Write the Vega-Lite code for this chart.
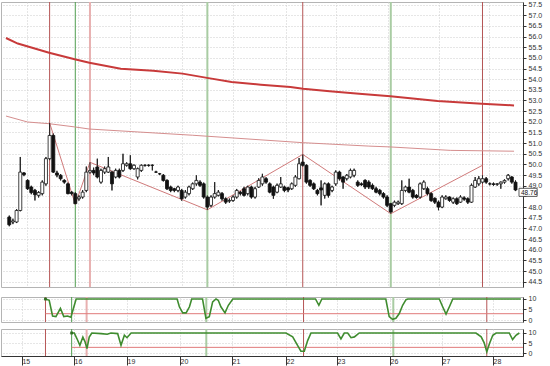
{
  "$schema": "https://vega.github.io/schema/vega-lite/v6.json",
  "background": "white",
  "padding": 0,
  "spacing": 10,
  "bounds": "flush",
  "config": {
    "view": {"stroke": "#b4b4b4"},
    "axis": {"labelFont": "Liberation Sans", "labelFontSize": 7, "labelColor": "#333333", "domainColor": "#333333", "tickColor": "#333333", "gridColor": "#cccccc", "gridDash": [1, 2], "gridWidth": 1, "labelOverlap": false}
  },
  "resolve": {"scale": {"x": "independent", "y": "independent"}},
  "datasets": {
    "signals": [
      {"i": 11, "kind": "red"}, {"i": 18, "kind": "green"}, {"i": 22, "kind": "pink"},
      {"i": 54, "kind": "palegreen"}, {"i": 80, "kind": "red"}, {"i": 104, "kind": "palegreen"}, {"i": 129, "kind": "red"}
    ],
    "ma1": [
      {"i": -0.89, "v": 55.93}, {"i": 2.32, "v": 55.67}, {"i": 10.87, "v": 55.24}, {"i": 17.83, "v": 54.93},
      {"i": 21.84, "v": 54.77}, {"i": 30.39, "v": 54.49}, {"i": 39.22, "v": 54.39}, {"i": 47.24, "v": 54.26},
      {"i": 53.92, "v": 54.06}, {"i": 60.6, "v": 53.87}, {"i": 68.6, "v": 53.74}, {"i": 76.65, "v": 53.63},
      {"i": 80.1, "v": 53.55}, {"i": 87.34, "v": 53.43}, {"i": 95.37, "v": 53.32}, {"i": 103.9, "v": 53.2},
      {"i": 116.75, "v": 52.98}, {"i": 128.8, "v": 52.85}, {"i": 137.6, "v": 52.77}
    ],
    "ma2": [
      {"i": -0.89, "v": 52.27}, {"i": 4.99, "v": 51.99}, {"i": 10.87, "v": 51.91}, {"i": 17.83, "v": 51.76},
      {"i": 21.84, "v": 51.66}, {"i": 49.91, "v": 51.37}, {"i": 80.1, "v": 51.02}, {"i": 98.03, "v": 50.86},
      {"i": 103.9, "v": 50.82}, {"i": 120.2, "v": 50.66}, {"i": 137.6, "v": 50.62}
    ],
    "zigzag": [
      {"i": 11, "v": 51.95}, {"i": 18, "v": 48.13}, {"i": 22, "v": 50.1}, {"i": 54, "v": 47.87},
      {"i": 80, "v": 50.47}, {"i": 104, "v": 47.69}, {"i": 129, "v": 49.96}
    ],
    "candles": [
      {"i":0,"o":47.53,"c":47.17,"h":47.6,"l":47.1},
      {"i":1,"o":47.3,"c":47.35,"h":47.45,"l":47.2},
      {"i":2,"o":47.3,"c":47.84,"h":47.9,"l":47.25},
      {"i":3,"o":47.84,"c":49.64,"h":50.35,"l":47.8},
      {"i":4,"o":49.6,"c":49.52,"h":49.64,"l":49.45},
      {"i":5,"o":49.25,"c":48.86,"h":49.3,"l":48.8},
      {"i":6,"o":48.94,"c":48.68,"h":49.0,"l":48.6},
      {"i":7,"o":48.78,"c":48.58,"h":48.85,"l":48.31},
      {"i":8,"o":48.55,"c":48.68,"h":48.75,"l":48.45},
      {"i":9,"o":48.63,"c":49.17,"h":49.25,"l":48.55},
      {"i":10,"o":49.09,"c":50.27,"h":50.35,"l":49.0},
      {"i":11,"o":50.27,"c":51.36,"h":51.95,"l":50.2},
      {"i":12,"o":51.36,"c":49.64,"h":51.45,"l":49.6},
      {"i":13,"o":49.6,"c":49.5,"h":49.7,"l":49.4},
      {"i":14,"o":49.49,"c":49.33,"h":49.55,"l":49.25},
      {"i":15,"o":49.25,"c":49.17,"h":49.3,"l":49.1},
      {"i":16,"o":49.09,"c":48.63,"h":49.15,"l":48.6},
      {"i":17,"o":48.7,"c":48.63,"h":48.75,"l":48.55},
      {"i":18,"o":48.63,"c":48.16,"h":48.7,"l":48.13},
      {"i":19,"o":48.39,"c":48.47,"h":48.55,"l":48.3},
      {"i":20,"o":48.47,"c":48.7,"h":48.8,"l":48.4},
      {"i":21,"o":48.78,"c":49.64,"h":49.9,"l":48.7},
      {"i":22,"o":49.64,"c":49.72,"h":50.1,"l":49.55},
      {"i":23,"o":49.72,"c":49.6,"h":49.85,"l":49.5},
      {"i":24,"o":49.88,"c":49.41,"h":50.27,"l":49.35},
      {"i":25,"o":49.17,"c":49.72,"h":49.8,"l":49.1},
      {"i":26,"o":49.64,"c":49.8,"h":49.9,"l":49.55},
      {"i":27,"o":49.64,"c":49.88,"h":50.35,"l":49.6},
      {"i":28,"o":49.64,"c":49.09,"h":49.7,"l":48.78},
      {"i":29,"o":49.41,"c":49.72,"h":49.8,"l":49.35},
      {"i":30,"o":49.72,"c":49.41,"h":49.8,"l":49.35},
      {"i":31,"o":49.72,"c":50.03,"h":50.5,"l":49.65},
      {"i":32,"o":49.96,"c":50.03,"h":50.1,"l":49.9},
      {"i":33,"o":50.03,"c":49.8,"h":50.43,"l":49.75},
      {"i":34,"o":49.8,"c":49.96,"h":50.0,"l":49.75},
      {"i":35,"o":49.41,"c":49.8,"h":49.85,"l":49.3},
      {"i":36,"o":49.72,"c":49.96,"h":50.0,"l":49.65},
      {"i":37,"o":49.96,"c":49.96,"h":50.0,"l":49.9},
      {"i":38,"o":49.96,"c":49.96,"h":50.0,"l":49.9},
      {"i":39,"o":49.96,"c":49.96,"h":50.0,"l":49.72},
      {"i":40,"o":49.64,"c":49.64,"h":49.7,"l":49.6},
      {"i":41,"o":49.56,"c":49.56,"h":49.6,"l":49.5},
      {"i":42,"o":49.49,"c":49.25,"h":49.55,"l":49.2},
      {"i":43,"o":49.25,"c":48.86,"h":49.3,"l":48.8},
      {"i":44,"o":48.94,"c":48.78,"h":49.0,"l":48.7},
      {"i":45,"o":48.86,"c":48.78,"h":48.9,"l":48.7},
      {"i":46,"o":48.78,"c":48.94,"h":49.0,"l":48.7},
      {"i":47,"o":48.78,"c":48.39,"h":48.85,"l":48.3},
      {"i":48,"o":48.47,"c":48.7,"h":48.8,"l":48.4},
      {"i":49,"o":48.63,"c":48.94,"h":49.0,"l":48.55},
      {"i":50,"o":48.86,"c":49.09,"h":49.15,"l":48.8},
      {"i":51,"o":49.09,"c":49.25,"h":49.49,"l":49.0},
      {"i":52,"o":49.17,"c":49.02,"h":49.25,"l":48.95},
      {"i":53,"o":49.09,"c":48.47,"h":49.15,"l":48.4},
      {"i":54,"o":48.47,"c":48.0,"h":48.55,"l":47.87},
      {"i":55,"o":48.08,"c":48.47,"h":48.55,"l":48.0},
      {"i":56,"o":48.47,"c":48.63,"h":49.17,"l":48.4},
      {"i":57,"o":48.55,"c":48.7,"h":48.8,"l":48.5},
      {"i":58,"o":48.63,"c":48.39,"h":48.7,"l":48.3},
      {"i":59,"o":48.39,"c":48.23,"h":48.45,"l":48.15},
      {"i":60,"o":48.28,"c":48.31,"h":48.4,"l":48.2},
      {"i":61,"o":48.31,"c":48.47,"h":48.55,"l":48.25},
      {"i":62,"o":48.47,"c":48.78,"h":48.85,"l":48.4},
      {"i":63,"o":48.7,"c":48.63,"h":48.75,"l":48.55},
      {"i":64,"o":48.86,"c":48.55,"h":48.95,"l":48.5},
      {"i":65,"o":48.63,"c":48.94,"h":49.0,"l":48.55},
      {"i":66,"o":48.94,"c":48.47,"h":49.0,"l":48.4},
      {"i":67,"o":48.47,"c":48.86,"h":48.95,"l":48.4},
      {"i":68,"o":48.94,"c":49.25,"h":49.35,"l":48.9},
      {"i":69,"o":49.09,"c":49.41,"h":49.56,"l":49.0},
      {"i":70,"o":49.33,"c":49.17,"h":49.4,"l":49.1},
      {"i":71,"o":49.09,"c":48.7,"h":49.15,"l":48.65},
      {"i":72,"o":48.94,"c":48.55,"h":49.0,"l":48.39},
      {"i":73,"o":48.7,"c":49.02,"h":49.1,"l":48.65},
      {"i":74,"o":48.94,"c":49.09,"h":49.41,"l":48.9},
      {"i":75,"o":48.94,"c":48.78,"h":49.0,"l":48.7},
      {"i":76,"o":48.9,"c":48.8,"h":48.95,"l":48.7},
      {"i":77,"o":48.86,"c":49.09,"h":49.15,"l":48.8},
      {"i":78,"o":49.02,"c":49.41,"h":49.5,"l":48.95},
      {"i":79,"o":49.33,"c":50.03,"h":50.3,"l":49.3},
      {"i":80,"o":50.11,"c":49.96,"h":50.47,"l":49.9},
      {"i":81,"o":49.96,"c":49.17,"h":50.0,"l":49.1},
      {"i":82,"o":49.25,"c":49.02,"h":49.3,"l":48.95},
      {"i":83,"o":49.09,"c":48.86,"h":49.15,"l":48.8},
      {"i":84,"o":48.78,"c":48.63,"h":48.85,"l":48.55},
      {"i":85,"o":48.9,"c":48.8,"h":49.25,"l":48.08},
      {"i":86,"o":48.55,"c":49.09,"h":49.15,"l":48.4},
      {"i":87,"o":49.09,"c":48.55,"h":49.15,"l":48.45},
      {"i":88,"o":48.78,"c":48.94,"h":49.0,"l":48.7},
      {"i":89,"o":49.09,"c":49.64,"h":49.72,"l":49.0},
      {"i":90,"o":49.64,"c":49.33,"h":49.7,"l":49.25},
      {"i":91,"o":49.41,"c":49.17,"h":49.45,"l":48.86},
      {"i":92,"o":49.33,"c":49.49,"h":49.55,"l":49.25},
      {"i":93,"o":49.41,"c":49.72,"h":49.8,"l":49.35},
      {"i":94,"o":49.49,"c":49.72,"h":49.8,"l":49.4},
      {"i":95,"o":49.17,"c":49.02,"h":49.25,"l":48.95},
      {"i":96,"o":49.09,"c":49.05,"h":49.15,"l":49.0},
      {"i":97,"o":49.25,"c":48.94,"h":49.3,"l":48.85},
      {"i":98,"o":49.17,"c":48.94,"h":49.25,"l":48.85},
      {"i":99,"o":49.02,"c":48.86,"h":49.1,"l":48.8},
      {"i":100,"o":48.86,"c":48.7,"h":48.95,"l":48.65},
      {"i":101,"o":48.78,"c":48.63,"h":48.85,"l":48.55},
      {"i":102,"o":48.63,"c":48.47,"h":48.7,"l":48.4},
      {"i":103,"o":48.47,"c":48.08,"h":48.55,"l":48.0},
      {"i":104,"o":48.16,"c":47.77,"h":48.2,"l":47.69},
      {"i":105,"o":48.08,"c":48.23,"h":48.3,"l":48.0},
      {"i":106,"o":48.16,"c":48.23,"h":48.3,"l":48.1},
      {"i":107,"o":48.16,"c":48.78,"h":49.25,"l":48.1},
      {"i":108,"o":48.78,"c":48.94,"h":49.0,"l":48.7},
      {"i":109,"o":48.94,"c":48.7,"h":49.33,"l":48.65},
      {"i":110,"o":48.78,"c":48.47,"h":48.85,"l":48.4},
      {"i":111,"o":48.55,"c":48.45,"h":48.6,"l":48.4},
      {"i":112,"o":48.47,"c":49.09,"h":49.15,"l":48.4},
      {"i":113,"o":48.86,"c":49.17,"h":49.25,"l":48.8},
      {"i":114,"o":48.86,"c":48.63,"h":48.95,"l":48.55},
      {"i":115,"o":48.63,"c":48.31,"h":48.7,"l":48.25},
      {"i":116,"o":48.41,"c":48.23,"h":48.45,"l":48.15},
      {"i":117,"o":48.23,"c":48.0,"h":48.3,"l":47.85},
      {"i":118,"o":48.0,"c":48.47,"h":48.55,"l":47.95},
      {"i":119,"o":48.39,"c":48.47,"h":48.55,"l":48.35},
      {"i":120,"o":48.47,"c":48.31,"h":48.5,"l":48.25},
      {"i":121,"o":48.23,"c":48.39,"h":48.45,"l":48.15},
      {"i":122,"o":48.39,"c":48.16,"h":48.45,"l":48.1},
      {"i":123,"o":48.23,"c":48.47,"h":48.55,"l":48.2},
      {"i":124,"o":48.43,"c":48.37,"h":48.5,"l":48.3},
      {"i":125,"o":48.39,"c":48.23,"h":48.45,"l":48.15},
      {"i":126,"o":48.23,"c":49.02,"h":49.1,"l":48.2},
      {"i":127,"o":48.94,"c":49.25,"h":49.41,"l":48.9},
      {"i":128,"o":49.09,"c":49.33,"h":49.45,"l":49.0},
      {"i":129,"o":49.17,"c":49.33,"h":49.49,"l":49.1},
      {"i":130,"o":49.33,"c":49.17,"h":49.41,"l":49.1},
      {"i":131,"o":49.09,"c":49.09,"h":49.15,"l":49.02},
      {"i":132,"o":49.09,"c":49.06,"h":49.15,"l":49.0},
      {"i":133,"o":49.07,"c":49.09,"h":49.12,"l":49.0},
      {"i":134,"o":49.09,"c":49.17,"h":49.2,"l":48.86},
      {"i":135,"o":49.17,"c":49.25,"h":49.3,"l":49.1},
      {"i":136,"o":49.33,"c":49.49,"h":49.55,"l":49.25},
      {"i":137,"o":49.41,"c":49.17,"h":49.45,"l":49.1},
      {"i":138,"o":49.17,"c":48.8,"h":49.25,"l":48.75}
    ],
    "ind1": [
      {"i":11,"v":10},{"i":12,"v":9.4},{"i":12.9,"v":1.9},{"i":13.8,"v":1.6},{"i":15,"v":5.5},{"i":15.9,"v":1.6},
      {"i":16.9,"v":1.9},{"i":17.8,"v":1.3},{"i":18.6,"v":6.3},{"i":19.2,"v":10},{"i":46.2,"v":10},{"i":46.8,"v":6.3},
      {"i":47.7,"v":3.4},{"i":48.6,"v":3.4},{"i":49.5,"v":6.3},{"i":50.1,"v":10},{"i":53,"v":10},{"i":53.9,"v":0.8},
      {"i":54.8,"v":1.6},{"i":55.7,"v":8.6},{"i":56.6,"v":10},{"i":57.2,"v":9.4},{"i":57.9,"v":6.3},{"i":59,"v":3.4},
      {"i":59.9,"v":7},{"i":61.1,"v":10},{"i":83.2,"v":10},{"i":84.1,"v":7},{"i":84.9,"v":10},{"i":102,"v":10},
      {"i":102.9,"v":1.6},{"i":103.8,"v":0.3},{"i":104.7,"v":0.8},{"i":105.6,"v":3.1},{"i":106.5,"v":7},{"i":107.4,"v":9.7},
      {"i":107.9,"v":10},{"i":116.3,"v":10},{"i":117.2,"v":6.3},{"i":118.1,"v":2.8},{"i":119,"v":6.3},{"i":119.9,"v":10},
      {"i":138.1,"v":10}
    ],
    "ind2": [
      {"i":18,"v":10},{"i":18.7,"v":10},{"i":19.4,"v":7.3},{"i":20.2,"v":4},{"i":21,"v":8},{"i":21.6,"v":5.6},
      {"i":22.1,"v":2.4},{"i":22.7,"v":8},{"i":23.4,"v":10},{"i":25.9,"v":9.7},{"i":27.5,"v":9.4},{"i":28.5,"v":10},
      {"i":30.3,"v":9.7},{"i":31.2,"v":4},{"i":32.1,"v":8.9},{"i":32.8,"v":7.7},{"i":33.9,"v":10},{"i":75.3,"v":10},
      {"i":77.1,"v":8.1},{"i":78.4,"v":4},{"i":79.3,"v":1.1},{"i":80.2,"v":1.1},{"i":81.1,"v":6.3},{"i":82,"v":10},
      {"i":89.1,"v":10},{"i":90,"v":7.1},{"i":90.9,"v":10},{"i":91.8,"v":10},{"i":92.7,"v":7.7},{"i":93.6,"v":8.1},
      {"i":94.9,"v":10},{"i":126.1,"v":10},{"i":127.5,"v":8.1},{"i":128.3,"v":5.2},{"i":129,"v":0.8},{"i":129.7,"v":4.8},
      {"i":130.6,"v":8.9},{"i":131.5,"v":10},{"i":135,"v":10},{"i":135.9,"v":6.8},{"i":136.8,"v":8.9},{"i":137.7,"v":10}
    ],
    "thresholds": [{"panel": 1, "start": 11, "level": 3}, {"panel": 2, "start": 18, "level": 3}],
    "lastprice": [{"price": 48.76, "from": 138.95, "to": 143.9, "lo": 48.5, "hi": 48.88}]
  },
  "vconcat": [
    {
      "width": 522,
      "height": 285,
      "encoding": {
        "x": {"field": "i", "type": "quantitative",
          "scale": {"domain": [-0.89, 138.68], "nice": false, "zero": false},
          "axis": {"values": [4.72, 18.63, 32.8, 46.97, 60.87, 75.31, 88.95, 103.12, 117.02, 130.66], "labels": false, "ticks": false, "domain": false, "grid": true, "title": null}}
      },
      "layer": [
        {
          "data": {"name": "candles"},
          "mark": {"type": "rule", "color": "#222222", "strokeWidth": 1},
          "encoding": {
            "y": {"field": "l", "type": "quantitative", "scale": {"domain": [44.25, 57.62], "nice": false, "zero": false},
              "axis": {"orient": "right", "title": null, "grid": true, "tickSize": 3, "labelPadding": 2, "labelOverlap": false, "labelExpr": "datum.value === 48.5 ? '' : format(datum.value, '.1f')",
                "values": [44.5,45,45.5,46,46.5,47,47.5,48,48.5,49,49.5,50,50.5,51,51.5,52,52.5,53,53.5,54,54.5,55,55.5,56,56.5,57,57.5]}},
            "y2": {"field": "h"}
          }
        },
        {
          "data": {"name": "signals"},
          "mark": {"type": "rule"},
          "encoding": {
            "color": {"field": "kind", "type": "nominal", "legend": null,
              "scale": {"domain": ["red", "green", "pink", "palegreen"], "range": ["#b55555", "#4f9d4f", "#e8b0b0", "#a9cca3"]}},
            "strokeWidth": {"condition": {"test": "datum.kind === 'pink' || datum.kind === 'palegreen'", "value": 2}, "value": 1}
          }
        },
        {
          "data": {"name": "ma2"},
          "mark": {"type": "line", "color": "#d58e8e", "strokeWidth": 1},
          "encoding": {"y": {"field": "v", "type": "quantitative", "scale": {"domain": [44.25, 57.62], "nice": false, "zero": false},
            "axis": {"orient": "right", "title": null, "grid": true, "tickSize": 3, "labelPadding": 2, "labelOverlap": false, "labelExpr": "datum.value === 48.5 ? '' : format(datum.value, '.1f')",
              "values": [44.5,45,45.5,46,46.5,47,47.5,48,48.5,49,49.5,50,50.5,51,51.5,52,52.5,53,53.5,54,54.5,55,55.5,56,56.5,57,57.5]}}}
        },
        {
          "data": {"name": "ma1"},
          "mark": {"type": "line", "color": "#c83a3a", "strokeWidth": 2},
          "encoding": {"y": {"field": "v", "type": "quantitative", "scale": {"domain": [44.25, 57.62], "nice": false, "zero": false},
            "axis": {"orient": "right", "title": null, "grid": true, "tickSize": 3, "labelPadding": 2, "labelOverlap": false, "labelExpr": "datum.value === 48.5 ? '' : format(datum.value, '.1f')",
              "values": [44.5,45,45.5,46,46.5,47,47.5,48,48.5,49,49.5,50,50.5,51,51.5,52,52.5,53,53.5,54,54.5,55,55.5,56,56.5,57,57.5]}}}
        },
        {
          "data": {"name": "zigzag"},
          "mark": {"type": "line", "color": "#d07a7a", "strokeWidth": 1},
          "encoding": {"y": {"field": "v", "type": "quantitative", "scale": {"domain": [44.25, 57.62], "nice": false, "zero": false},
            "axis": {"orient": "right", "title": null, "grid": true, "tickSize": 3, "labelPadding": 2, "labelOverlap": false, "labelExpr": "datum.value === 48.5 ? '' : format(datum.value, '.1f')",
              "values": [44.5,45,45.5,46,46.5,47,47.5,48,48.5,49,49.5,50,50.5,51,51.5,52,52.5,53,53.5,54,54.5,55,55.5,56,56.5,57,57.5]}}}
        },
        {
          "data": {"name": "candles"},
          "mark": {"type": "rule", "color": "#222222", "strokeWidth": 1},
          "encoding": {
            "y": {"field": "l", "type": "quantitative", "scale": {"domain": [44.25, 57.62], "nice": false, "zero": false},
              "axis": {"orient": "right", "title": null, "grid": true, "tickSize": 3, "labelPadding": 2, "labelOverlap": false, "labelExpr": "datum.value === 48.5 ? '' : format(datum.value, '.1f')",
                "values": [44.5,45,45.5,46,46.5,47,47.5,48,48.5,49,49.5,50,50.5,51,51.5,52,52.5,53,53.5,54,54.5,55,55.5,56,56.5,57,57.5]}},
            "y2": {"field": "h"}
          }
        },
        {
          "data": {"name": "candles"},
          "mark": {"type": "bar", "size": 3, "stroke": "#111111", "strokeWidth": 0.8, "orient": "vertical"},
          "encoding": {
            "y": {"field": "o", "type": "quantitative", "scale": {"domain": [44.25, 57.62], "nice": false, "zero": false},
              "axis": {"orient": "right", "title": null, "grid": true, "tickSize": 3, "labelPadding": 2, "labelOverlap": false, "labelExpr": "datum.value === 48.5 ? '' : format(datum.value, '.1f')",
                "values": [44.5,45,45.5,46,46.5,47,47.5,48,48.5,49,49.5,50,50.5,51,51.5,52,52.5,53,53.5,54,54.5,55,55.5,56,56.5,57,57.5]}},
            "y2": {"field": "c"},
            "fill": {"condition": {"test": "datum.c >= datum.o", "value": "#ffffff"}, "value": "#111111"}
          }
        },
        {
          "data": {"name": "lastprice"},
          "mark": {"type": "rect", "fill": "#ffffff", "stroke": "#333333", "strokeWidth": 0.8, "clip": false},
          "encoding": {
            "x": {"field": "from", "type": "quantitative"},
            "x2": {"field": "to"},
            "y": {"field": "lo", "type": "quantitative", "scale": {"domain": [44.25, 57.62], "nice": false, "zero": false},
              "axis": {"orient": "right", "title": null, "grid": true, "tickSize": 3, "labelPadding": 2, "labelOverlap": false, "labelExpr": "datum.value === 48.5 ? '' : format(datum.value, '.1f')",
                "values": [44.5,45,45.5,46,46.5,47,47.5,48,48.5,49,49.5,50,50.5,51,51.5,52,52.5,53,53.5,54,54.5,55,55.5,56,56.5,57,57.5]}},
            "y2": {"field": "hi"}
          }
        },
        {
          "data": {"name": "lastprice"},
          "mark": {"type": "text", "align": "left", "baseline": "middle", "fontSize": 6.5, "font": "Liberation Sans", "color": "#111111", "dx": 2, "dy": 2, "clip": false},
          "encoding": {
            "x": {"field": "from", "type": "quantitative"},
            "y": {"field": "price", "type": "quantitative", "scale": {"domain": [44.25, 57.62], "nice": false, "zero": false},
              "axis": {"orient": "right", "title": null, "grid": true, "tickSize": 3, "labelPadding": 2, "labelOverlap": false, "labelExpr": "datum.value === 48.5 ? '' : format(datum.value, '.1f')",
                "values": [44.5,45,45.5,46,46.5,47,47.5,48,48.5,49,49.5,50,50.5,51,51.5,52,52.5,53,53.5,54,54.5,55,55.5,56,56.5,57,57.5]}},
            "text": {"field": "price", "type": "quantitative", "format": ".2f"}
          }
        }
      ]
    },
    {
      "spacing": 7,
      "bounds": "flush",
      "resolve": {"scale": {"x": "independent", "y": "independent"}},
      "vconcat": [
        {
          "width": 522,
          "height": 25,
          "encoding": {
            "x": {"field": "i", "type": "quantitative",
              "scale": {"domain": [-0.89, 138.68], "nice": false, "zero": false},
              "axis": {"values": [4.72, 18.63, 32.8, 46.97, 60.87, 75.31, 88.95, 103.12, 117.02, 130.66], "labels": false, "ticks": false, "domain": false, "grid": true, "title": null}}
          },
          "layer": [
            {
              "data": {"name": "signals"},
              "mark": {"type": "rule"},
              "encoding": {
                "color": {"field": "kind", "type": "nominal", "legend": null,
                  "scale": {"domain": ["red", "green", "pink", "palegreen"], "range": ["#b55555", "#4f9d4f", "#e8b0b0", "#a9cca3"]}},
                "strokeWidth": {"condition": {"test": "datum.kind === 'pink' || datum.kind === 'palegreen'", "value": 2}, "value": 1}
              }
            },
            {
              "data": {"name": "thresholds"},
              "transform": [{"filter": "datum.panel === 1"}],
              "mark": {"type": "rule", "color": "#e07a7a", "strokeWidth": 1},
              "encoding": {
                "x": {"field": "start", "type": "quantitative"},
                "x2": {"datum": 138.68},
                "y": {"field": "level", "type": "quantitative", "scale": {"domain": [-0.95, 10.95], "nice": false, "zero": false},
                  "axis": {"orient": "right", "title": null, "values": [0, 5, 10], "grid": true, "tickSize": 3, "labelPadding": 2, "labelOverlap": false}}
              }
            },
            {
              "data": {"name": "ind1"},
              "mark": {"type": "line", "color": "#3f8c2f", "strokeWidth": 1.6},
              "encoding": {"y": {"field": "v", "type": "quantitative", "scale": {"domain": [-0.95, 10.95], "nice": false, "zero": false},
                "axis": {"orient": "right", "title": null, "values": [0, 5, 10], "grid": true, "tickSize": 3, "labelPadding": 2, "labelOverlap": false}}}
            },
            {
              "data": {"name": "ind1"},
              "transform": [{"filter": "datum.i === 11"}],
              "mark": {"type": "square", "color": "#2f6f22", "size": 8, "opacity": 1},
              "encoding": {"y": {"field": "v", "type": "quantitative", "scale": {"domain": [-0.95, 10.95], "nice": false, "zero": false},
                "axis": {"orient": "right", "title": null, "values": [0, 5, 10], "grid": true, "tickSize": 3, "labelPadding": 2, "labelOverlap": false}}}
            }
          ]
        },
        {
          "width": 522,
          "height": 27,
          "encoding": {
            "x": {"field": "i", "type": "quantitative",
              "scale": {"domain": [-0.89, 138.68], "nice": false, "zero": false},
              "axis": {"values": [4.72, 18.63, 32.8, 46.97, 60.87, 75.31, 88.95, 103.12, 117.02, 130.66], "title": null, "grid": true,
                "labels": true, "ticks": true, "tickSize": 9, "domain": true, "labelAlign": "left", "labelBaseline": "top",
                "labelPadding": -8, "labelDx": 3, "labelOverlap": false, "labelFlush": false,
                "labelExpr": "datum.value < 10 ? '15' : datum.value < 25 ? '16' : datum.value < 40 ? '19' : datum.value < 50 ? '20' : datum.value < 70 ? '21' : datum.value < 80 ? '22' : datum.value < 95 ? '23' : datum.value < 110 ? '26' : datum.value < 125 ? '27' : '28'"}}
          },
          "layer": [
            {
              "data": {"name": "signals"},
              "mark": {"type": "rule"},
              "encoding": {
                "color": {"field": "kind", "type": "nominal", "legend": null,
                  "scale": {"domain": ["red", "green", "pink", "palegreen"], "range": ["#b55555", "#4f9d4f", "#e8b0b0", "#a9cca3"]}},
                "strokeWidth": {"condition": {"test": "datum.kind === 'pink' || datum.kind === 'palegreen'", "value": 2}, "value": 1}
              }
            },
            {
              "data": {"name": "thresholds"},
              "transform": [{"filter": "datum.panel === 2"}],
              "mark": {"type": "rule", "color": "#e07a7a", "strokeWidth": 1},
              "encoding": {
                "x": {"field": "start", "type": "quantitative"},
                "x2": {"datum": 138.68},
                "y": {"field": "level", "type": "quantitative", "scale": {"domain": [-1.22, 11.95], "nice": false, "zero": false},
                  "axis": {"orient": "right", "title": null, "values": [0, 5, 10], "grid": true, "tickSize": 3, "labelPadding": 2, "labelOverlap": false}}
              }
            },
            {
              "data": {"name": "ind2"},
              "mark": {"type": "line", "color": "#3f8c2f", "strokeWidth": 1.6},
              "encoding": {"y": {"field": "v", "type": "quantitative", "scale": {"domain": [-1.22, 11.95], "nice": false, "zero": false},
                "axis": {"orient": "right", "title": null, "values": [0, 5, 10], "grid": true, "tickSize": 3, "labelPadding": 2, "labelOverlap": false}}}
            },
            {
              "data": {"name": "ind2"},
              "transform": [{"filter": "datum.i === 18"}],
              "mark": {"type": "square", "color": "#2f6f22", "size": 8, "opacity": 1},
              "encoding": {"y": {"field": "v", "type": "quantitative", "scale": {"domain": [-1.22, 11.95], "nice": false, "zero": false},
                "axis": {"orient": "right", "title": null, "values": [0, 5, 10], "grid": true, "tickSize": 3, "labelPadding": 2, "labelOverlap": false}}}
            }
          ]
        }
      ]
    }
  ]
}
